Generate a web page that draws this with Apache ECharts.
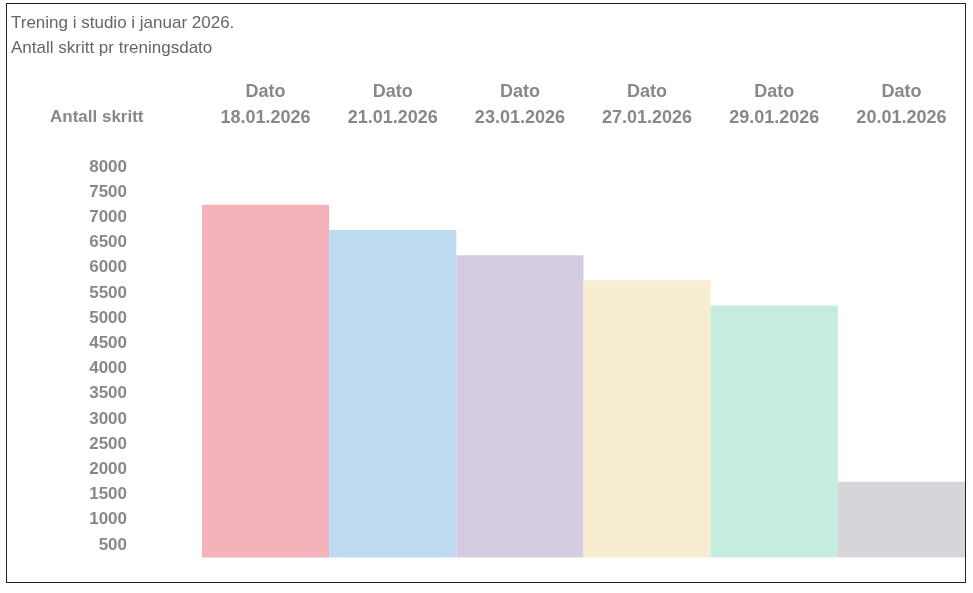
<!DOCTYPE html>
<html>
<head>
<meta charset="utf-8">
<script src="https://cdn.jsdelivr.net/npm/echarts@6/dist/echarts.min.js"></script>
<style>
  html, body { margin: 0; padding: 0; background: #fff; }
  #chart { width: 973px; height: 593px; }
  #frame { position: absolute; left: 6px; top: 3px; width: 958px; height: 578px; border: 1.5px solid #222; pointer-events: none; }
</style>
</head>
<body>
<div id="chart"></div>
<div id="frame"></div>
<script>
const dates = ['18.01.2026', '21.01.2026', '23.01.2026', '27.01.2026', '29.01.2026', '20.01.2026'];
const steps = [7250, 6750, 6250, 5750, 5250, 1750];
const colors = ['#f4b3ba', '#bfdbf2', '#d6cce2', '#f7eed2', '#c5ecdd', '#d6d5d9'];
// bunnen av stolpene står på 250
const base = 250;

const chart = echarts.init(document.getElementById('chart'));
chart.setOption({
  animation: false,
  title: {
    text: 'Trening i studio i januar 2026.\nAntall skritt pr treningsdato',
    left: 6,
    top: 6,
    textStyle: { fontSize: 17, fontWeight: 'normal', color: '#666', lineHeight: 25, fontFamily: 'Liberation Sans' }
  },
  graphic: [{
    type: 'text',
    left: 50,
    top: 109,
    style: { text: 'Antall skritt', fontSize: 17, fontWeight: 'bold', fill: '#888', fontFamily: 'Liberation Sans' }
  }],
  grid: { left: 202, right: 8, top: 167, bottom: 23 },
  xAxis: {
    type: 'category',
    position: 'top',
    data: dates,
    axisLine: { show: false },
    axisTick: { show: false },
    axisLabel: {
      margin: 36,
      fontSize: 18,
      fontWeight: 'bold',
      color: '#888',
      lineHeight: 26,
      fontFamily: 'Liberation Sans',
      formatter: d => 'Dato\n' + d
    }
  },
  yAxis: {
    type: 'value',
    min: 0,
    max: 8000,
    interval: 500,
    splitLine: { show: false },
    axisLine: { show: false },
    axisTick: { show: false },
    axisLabel: {
      margin: 75,
      fontSize: 17,
      fontWeight: 'bold',
      color: '#888',
      fontFamily: 'Liberation Sans',
      formatter: v => (v === 0 ? '' : String(v))
    }
  },
  series: [
    {
      type: 'bar',
      stack: 's',
      silent: true,
      barCategoryGap: 0,
      itemStyle: { color: 'transparent' },
      data: dates.map(() => base)
    },
    {
      type: 'bar',
      stack: 's',
      barCategoryGap: 0,
      data: steps.map((v, i) => ({ value: v - base, itemStyle: { color: colors[i] } }))
    }
  ]
});
</script>
</body>
</html>
